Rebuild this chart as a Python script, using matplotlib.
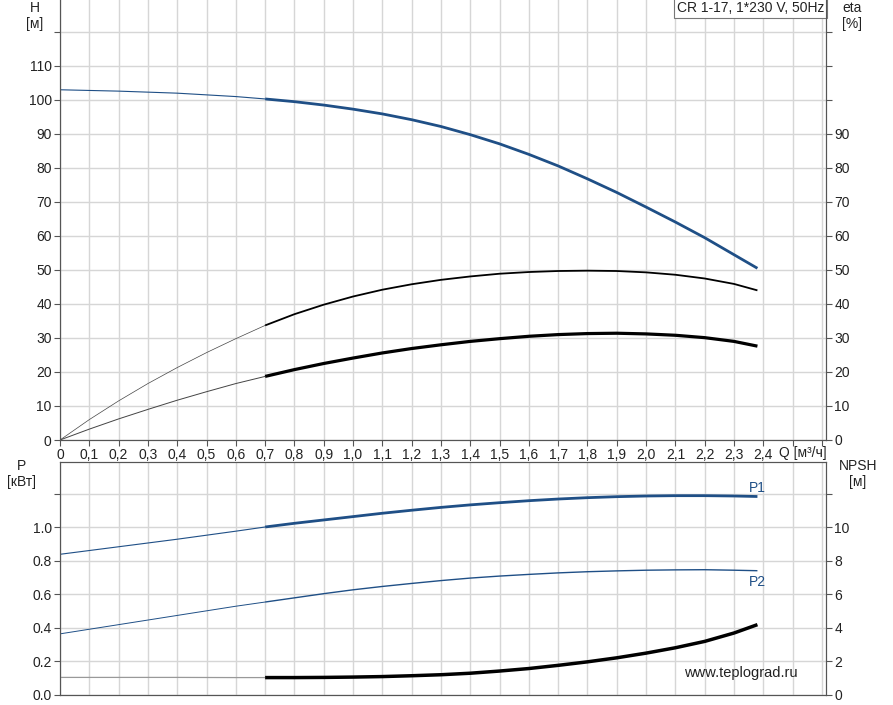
import numpy as np
import matplotlib.pyplot as plt

plt.rcParams['font.family'] = ['Liberation Sans', 'DejaVu Sans']

# ---- data ----
q_h = [0, 0.2, 0.4, 0.6, 0.7, 0.8, 0.9, 1.0, 1.1, 1.2, 1.3, 1.4, 1.5, 1.6, 1.7, 1.8, 1.9, 2.0, 2.1, 2.2, 2.3, 2.38]
head = [103, 102.6, 102.0, 101.0, 100.3, 99.5, 98.5, 97.3, 95.9, 94.2, 92.2, 89.8, 87.1, 84.0, 80.6, 76.8, 72.8, 68.5, 64.1, 59.5, 54.5, 50.5]

q_eta = [0, 0.1, 0.2, 0.3, 0.4, 0.5, 0.6, 0.7, 0.8, 0.9, 1.0, 1.1, 1.2, 1.3, 1.4, 1.5, 1.6, 1.7, 1.8, 1.9, 2.0, 2.1, 2.2, 2.3, 2.38]
eta_pump = [0, 6.0, 11.5, 16.6, 21.3, 25.7, 29.8, 33.7, 37.0, 39.8, 42.2, 44.2, 45.8, 47.1, 48.1, 48.9, 49.4, 49.7, 49.8, 49.7, 49.3, 48.6, 47.5, 45.9, 44.0]
eta_total = [0, 3.2, 6.2, 9.0, 11.7, 14.2, 16.6, 18.7, 20.7, 22.5, 24.1, 25.6, 26.9, 28.0, 29.0, 29.8, 30.5, 31.0, 31.3, 31.4, 31.2, 30.8, 30.1, 29.0, 27.6]

q_p = [0, 0.2, 0.4, 0.6, 0.7, 0.8, 0.9, 1.0, 1.1, 1.2, 1.3, 1.4, 1.5, 1.6, 1.7, 1.8, 1.9, 2.0, 2.1, 2.2, 2.3, 2.38]
p1 = [0.84, 0.885, 0.93, 0.978, 1.003, 1.025, 1.045, 1.065, 1.085, 1.103, 1.12, 1.135, 1.148, 1.16, 1.17, 1.178, 1.184, 1.188, 1.19, 1.19, 1.188, 1.185]
p2 = [0.365, 0.42, 0.475, 0.53, 0.555, 0.58, 0.605, 0.628, 0.648, 0.666, 0.683, 0.698, 0.71, 0.72, 0.729, 0.736, 0.741, 0.745, 0.747, 0.748, 0.745, 0.742]

q_npsh = [0, 0.2, 0.4, 0.6, 0.7, 0.8, 0.9, 1.0, 1.1, 1.2, 1.3, 1.4, 1.5, 1.6, 1.7, 1.8, 1.9, 2.0, 2.1, 2.2, 2.3, 2.38]
npsh = [1.05, 1.05, 1.05, 1.04, 1.04, 1.04, 1.05, 1.07, 1.1, 1.15, 1.21, 1.3, 1.43, 1.58, 1.77, 1.98, 2.22, 2.5, 2.82, 3.2, 3.7, 4.2]

Q_SPLIT = 0.7
BLUE = '#1f4f86'
GRID = '#d6d6d6'
SPINE = '#555555'
TXT = '#222222'
FS = 10

x_ticks = np.round(np.arange(0, 2.61, 0.1), 1)
x_labels = ['0'] + [f"{v:.1f}".replace('.', ',') for v in x_ticks[1:25]] + ['', '']


def split_plot(ax, x, y, color, lw_thin, lw_thick, thin_color=None):
    x = np.asarray(x)
    y = np.asarray(y)
    a = x <= Q_SPLIT
    b = x >= Q_SPLIT
    ax.plot(x[a], y[a], color=thin_color or color, lw=lw_thin, solid_capstyle='butt')
    ax.plot(x[b], y[b], color=color, lw=lw_thick, solid_capstyle='butt')


def style_axes(ax, ymax, yticks, ylabels):
    ax.set_xlim(0, 2.614)
    ax.set_ylim(0, ymax)
    ax.set_xticks(x_ticks)
    ax.set_yticks(yticks)
    ax.set_yticklabels([ylabels.get(v, '') for v in yticks])
    ax.grid(True, color=GRID, lw=1)
    ax.set_axisbelow(True)
    for s in ax.spines.values():
        s.set_color(SPINE)
    ax.tick_params(colors=SPINE, labelcolor=TXT, labelsize=FS, length=4, width=0.8, pad=2)


def style_right(ax, ymax, yticks, maxlab):
    ax.set_ylim(0, ymax)
    ax.set_yticks(yticks)
    ax.set_yticklabels([str(v) if v <= maxlab else '' for v in yticks])
    for s in ax.spines.values():
        s.set_color(SPINE)
    ax.tick_params(colors=SPINE, labelcolor=TXT, labelsize=FS, length=4, width=0.8, pad=2)


fig = plt.figure(figsize=(8.93, 7.05), dpi=100)

# ---- top: head & efficiency ----
ax1 = fig.add_axes([60 / 893, 1 - 440 / 705, 766 / 893, 440 / 705])
grid_h = list(range(0, 130, 10))
style_axes(ax1, 129.4, grid_h, {v: str(v) for v in range(0, 111, 10)})
ax1.set_xticklabels(x_labels)
ax1.spines['top'].set_visible(False)

split_plot(ax1, q_h, head, BLUE, 0.8, 2.0)
split_plot(ax1, q_eta, eta_pump, 'black', 0.5, 1.3, thin_color='#444444')
split_plot(ax1, q_eta, eta_total, 'black', 0.7, 2.3, thin_color='#444444')

ax1r = ax1.twinx()
style_right(ax1r, 129.4, grid_h, 90)
ax1r.spines['top'].set_visible(False)

fig.text(35 / 893, 1 - 1 / 705, 'H\n[м]', ha='center', va='top', fontsize=FS, color=TXT, linespacing=1.15)
fig.text(852 / 893, 1 - 1 / 705, 'eta\n[%]', ha='center', va='top', fontsize=FS, color=TXT, linespacing=1.15)
ax1.text(0.998, 0.998, 'CR 1-17, 1*230 V, 50Hz', transform=ax1.transAxes, ha='right', va='top',
         fontsize=FS, color=TXT, zorder=5,
         bbox=dict(boxstyle='square,pad=0.2', fc='white', ec='#777777', lw=0.8))
fig.text(803 / 893, 1 - 453 / 705, 'Q [м³/ч]', ha='center', va='center', fontsize=FS, color=TXT)

# ---- bottom: power & NPSH ----
ax2 = fig.add_axes([60 / 893, 1 - 695 / 705, 766 / 893, 233 / 705])
grid_p = [0.0, 0.2, 0.4, 0.6, 0.8, 1.0, 1.2]
style_axes(ax2, 1.391, grid_p, {v: f"{v:.1f}" for v in grid_p[:-1]})
ax2.tick_params(axis='x', labelbottom=False, length=0)

split_plot(ax2, q_p, p1, BLUE, 0.8, 2.0)
split_plot(ax2, q_p, p2, BLUE, 0.7, 1.0)
ax2.text(q_p[-1] - 0.03, p1[-1] + 0.05, 'P1', color=BLUE, fontsize=FS, ha='left', va='center')
ax2.text(q_p[-1] - 0.03, p2[-1] - 0.065, 'P2', color=BLUE, fontsize=FS, ha='left', va='center')

ax2r = ax2.twinx()
style_right(ax2r, 13.91, [0, 2, 4, 6, 8, 10, 12], 10)
split_plot(ax2r, q_npsh, npsh, 'black', 0.9, 2.5, thin_color='#999999')

fig.text(22 / 893, 1 - 474 / 705, 'P\n[кВт]', ha='center', va='center', fontsize=FS, color=TXT, linespacing=1.15)
fig.text(858 / 893, 1 - 474 / 705, 'NPSH\n[м]', ha='center', va='center', fontsize=FS, color=TXT, linespacing=1.15)
fig.text(741 / 893, 1 - 673 / 705, 'www.teplograd.ru', ha='center', va='center', fontsize=10.5, color='#222222')

fig.savefig('out.png', dpi=100)
